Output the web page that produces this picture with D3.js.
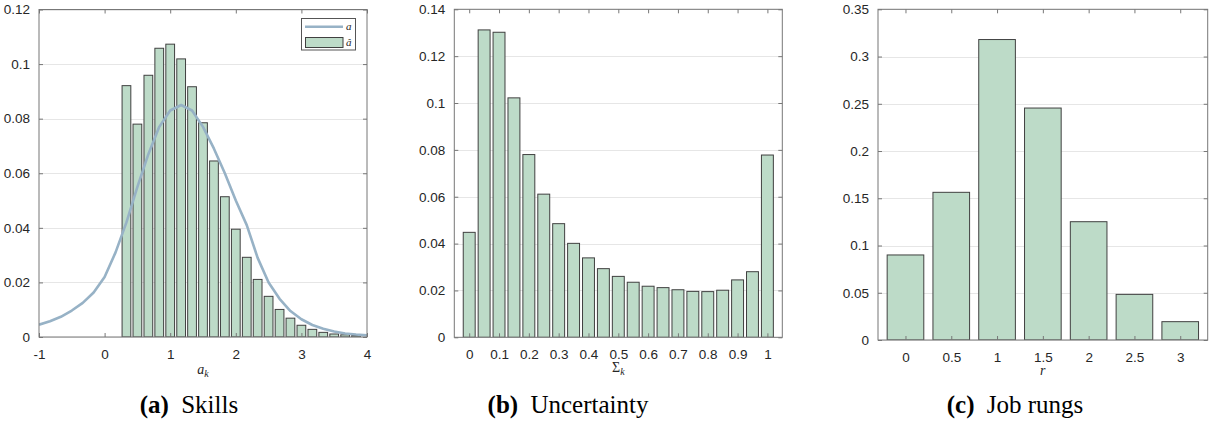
<!DOCTYPE html>
<html>
<head>
<meta charset="utf-8">
<script src="https://cdn.jsdelivr.net/npm/d3@7/dist/d3.min.js"></script>
<style>
  html, body { margin: 0; padding: 0; background: #fff; }
  svg { display: block; }
  .tick text { font-family: "Liberation Sans", Arial, sans-serif; font-size: 13.5px; fill: #262626; }
</style>
</head>
<body>
<svg id="chart" width="1214" height="424"></svg>
<script>
// ---------------- DATA ----------------
// (a) Skills: histogram of estimated skills (â) and density of true skills (a)
const skillBinCenters = [0.333, 0.5, 0.667, 0.833, 1.0, 1.167, 1.333, 1.5, 1.667, 1.833, 2.0,
  2.167, 2.333, 2.5, 2.667, 2.833, 3.0, 3.167, 3.333, 3.5, 3.667, 3.833];
const skillBinValues = [0.0921, 0.0780, 0.0959, 0.1058, 0.1073, 0.1019, 0.0917, 0.0785, 0.0645, 0.0514, 0.0395,
  0.0292, 0.0211, 0.0149, 0.0101, 0.0069, 0.0043, 0.0028, 0.0017, 0.0011, 0.0008, 0.0005];
const skillCurveX = [-1, -0.833, -0.667, -0.5, -0.333, -0.167, 0, 0.167, 0.333, 0.5, 0.667, 0.833, 1.0,
  1.167, 1.333, 1.5, 1.667, 1.833, 2.0, 2.167, 2.333, 2.5, 2.667, 2.833, 3.0, 3.167, 3.333, 3.5, 3.667, 3.833, 4.0];
const skillCurveY = [0.0045, 0.0058, 0.0074, 0.0097, 0.0125, 0.0163, 0.0220, 0.0310, 0.0420, 0.0550, 0.0670, 0.0770, 0.0830,
  0.0850, 0.0830, 0.0770, 0.0690, 0.0600, 0.0500, 0.0410, 0.0290, 0.0200, 0.0140, 0.0095, 0.0065, 0.0044, 0.0030, 0.0020, 0.0013, 0.0009, 0.0006];
const skillXTicks = [-1, 0, 1, 2, 3, 4];
const skillYTicks = [0, 0.02, 0.04, 0.06, 0.08, 0.1, 0.12];

// (b) Uncertainty
const uncCenters = [0, 0.05, 0.1, 0.15, 0.2, 0.25, 0.3, 0.35, 0.4, 0.45, 0.5, 0.55, 0.6, 0.65, 0.7, 0.75, 0.8, 0.85, 0.9, 0.95, 1.0];
const uncValues = [0.0448, 0.1312, 0.1302, 0.1022, 0.0780, 0.0611, 0.0485, 0.0401, 0.0339, 0.0293, 0.0260,
  0.0235, 0.0218, 0.0212, 0.0203, 0.0196, 0.0195, 0.0201, 0.0245, 0.0280, 0.0778];
const uncXTicks = [0, 0.1, 0.2, 0.3, 0.4, 0.5, 0.6, 0.7, 0.8, 0.9, 1];
const uncYTicks = [0, 0.02, 0.04, 0.06, 0.08, 0.1, 0.12, 0.14];

// (c) Job rungs
const rungCenters = [0, 0.5, 1, 1.5, 2, 2.5, 3];
const rungValues = [0.0900, 0.1563, 0.3180, 0.2455, 0.1252, 0.0483, 0.0194];
const rungXTicks = [0, 0.5, 1, 1.5, 2, 2.5, 3];
const rungYTicks = [0, 0.05, 0.1, 0.15, 0.2, 0.25, 0.3, 0.35];

const captions = [
  { tag: "(a)", text: "Skills" },
  { tag: "(b)", text: "Uncertainty" },
  { tag: "(c)", text: "Job rungs" }
];

// ---------------- STYLE ----------------
const barFill = "#bddbc8";
const barStroke = "#404040";
const curveColor = "#97b2c6";
const boxColor = "#777777";
const gridColor = "#e6e6e6";
const textColor = "#262626";

const svg = d3.select("#chart");
const fmt = v => String(+v.toFixed(3));

function panel(cfg) {
  const g = svg.append("g");
  const x = d3.scaleLinear().domain(cfg.xDomain).range([cfg.left, cfg.right]);
  const y = d3.scaleLinear().domain(cfg.yDomain).range([cfg.bottom, cfg.top]);

  const clipId = "clip" + cfg.id;
  svg.append("clipPath").attr("id", clipId).append("rect")
    .attr("x", cfg.left).attr("y", cfg.top)
    .attr("width", cfg.right - cfg.left).attr("height", cfg.bottom - cfg.top);

  // grid
  g.append("g").selectAll("line").data(cfg.yTicks).join("line")
    .attr("x1", cfg.left).attr("x2", cfg.right)
    .attr("y1", d => Math.round(y(d)) + 0.5).attr("y2", d => Math.round(y(d)) + 0.5)
    .attr("stroke", gridColor).attr("stroke-width", 1);

  // bars
  const bw = cfg.barWidth;
  g.append("g").attr("clip-path", `url(#${clipId})`)
    .selectAll("rect").data(cfg.centers.map((c, i) => ({ c, v: cfg.values[i] }))).join("rect")
    .attr("x", d => x(d.c - bw / 2))
    .attr("width", d => x(d.c + bw / 2) - x(d.c - bw / 2))
    .attr("y", d => y(d.v))
    .attr("height", d => y(0) - y(d.v))
    .attr("fill", barFill)
    .attr("stroke", barStroke)
    .attr("stroke-width", 1);

  // curve
  if (cfg.curveX) {
    const line = d3.line().x(d => x(d[0])).y(d => y(d[1])).curve(d3.curveLinear);
    g.append("path").attr("clip-path", `url(#${clipId})`)
      .datum(cfg.curveX.map((v, i) => [v, cfg.curveY[i]]))
      .attr("d", line)
      .attr("fill", "none").attr("stroke", curveColor).attr("stroke-width", 2.6)
      .attr("stroke-linejoin", "round");
  }

  // axes with inward ticks
  const tl = 4;
  const bottomAxis = d3.axisBottom(x).tickValues(cfg.xTicks).tickFormat(fmt).tickSizeInner(-tl).tickSizeOuter(0).tickPadding(12);
  const topAxis = d3.axisTop(x).tickValues(cfg.xTicks).tickFormat("").tickSizeInner(-tl).tickSizeOuter(0);
  const leftAxis = d3.axisLeft(y).tickValues(cfg.yTicks).tickFormat(fmt).tickSizeInner(-tl).tickSizeOuter(0).tickPadding(9);
  const rightAxis = d3.axisRight(y).tickValues(cfg.yTicks).tickFormat("").tickSizeInner(-tl).tickSizeOuter(0);

  const styleAxis = sel => {
    sel.select(".domain").remove();
    sel.selectAll(".tick line").attr("stroke", boxColor);
    sel.selectAll(".tick text").attr("fill", textColor).attr("font-family", null).attr("font-size", null);
  };
  g.append("g").attr("transform", `translate(0,${cfg.bottom})`).call(bottomAxis).call(styleAxis);
  g.append("g").attr("transform", `translate(0,${cfg.top})`).call(topAxis).call(styleAxis);
  g.append("g").attr("transform", `translate(${cfg.left},0)`).call(leftAxis).call(styleAxis);
  g.append("g").attr("transform", `translate(${cfg.right},0)`).call(rightAxis).call(styleAxis);

  // box
  g.append("rect")
    .attr("x", cfg.left).attr("y", cfg.top)
    .attr("width", cfg.right - cfg.left).attr("height", cfg.bottom - cfg.top)
    .attr("fill", "none").attr("stroke", boxColor).attr("stroke-width", 1);

  // x label
  const xl = g.append("text")
    .attr("x", (cfg.left + cfg.right) / 2).attr("y", cfg.xLabelY)
    .attr("text-anchor", "middle")
    .attr("font-family", "'Liberation Serif', 'DejaVu Serif', serif")
    .attr("font-size", 14).attr("fill", textColor);
  cfg.xLabel(xl);

  // caption
  const cap = svg.append("text")
    .attr("x", cfg.capX).attr("y", 413)
    .attr("text-anchor", "middle")
    .attr("font-family", "'Liberation Serif', 'DejaVu Serif', serif")
    .attr("font-size", 25).attr("fill", "#000");
  cap.append("tspan").attr("font-weight", "bold").text(cfg.caption.tag);
  cap.append("tspan").attr("dx", 6).text(" " + cfg.caption.text);

  return { g, x, y };
}

// Panel (a)
const pa = panel({
  id: "a", left: 39, right: 367, top: 9.5, bottom: 337,
  xDomain: [-1, 4], yDomain: [0, 0.12],
  xTicks: skillXTicks, yTicks: skillYTicks,
  centers: skillBinCenters, values: skillBinValues, barWidth: 0.8 / 6,
  curveX: skillCurveX, curveY: skillCurveY,
  xLabelY: 374,
  xLabel: t => {
    t.append("tspan").attr("font-style", "italic").text("a");
    t.append("tspan").attr("font-style", "italic").attr("font-size", 10).attr("dy", 2.5).text("k");
  },
  capX: 189, caption: captions[0]
});

// Legend for (a)
(function () {
  const lg = pa.g.append("g");
  lg.append("rect").attr("x", 301.5).attr("y", 18.5).attr("width", 54).attr("height", 31.5)
    .attr("fill", "#fff").attr("stroke", "#555").attr("stroke-width", 1);
  lg.append("line").attr("x1", 305).attr("x2", 343).attr("y1", 26.8).attr("y2", 26.8)
    .attr("stroke", curveColor).attr("stroke-width", 2.6);
  lg.append("rect").attr("x", 305.5).attr("y", 37.5).attr("width", 37.5).attr("height", 10)
    .attr("fill", barFill).attr("stroke", barStroke).attr("stroke-width", 1);
  lg.append("text").attr("x", 346).attr("y", 30).attr("font-family", "'Liberation Serif', serif")
    .attr("font-style", "italic").attr("font-size", 11).attr("fill", textColor).text("a");
  lg.append("text").attr("x", 346).attr("y", 46).attr("font-family", "'Liberation Serif', serif")
    .attr("font-style", "italic").attr("font-size", 11).attr("fill", textColor).text("\u00e2");
})();

// Panel (b)
panel({
  id: "b", left: 454.3, right: 782.3, top: 9.3, bottom: 337.3,
  xDomain: [-0.05, 1.05], yDomain: [0, 0.14],
  xTicks: uncXTicks, yTicks: uncYTicks,
  centers: uncCenters, values: uncValues, barWidth: 0.8 * 0.05,
  xLabelY: 372,
  xLabel: t => {
    t.append("tspan").text("\u03a3");
    t.append("tspan").attr("font-style", "italic").attr("font-size", 10).attr("dy", 2.5).text("k");
  },
  capX: 568, caption: captions[1]
});

// Panel (c)
panel({
  id: "c", left: 878, right: 1207.7, top: 9.3, bottom: 340,
  xDomain: [-0.3, 3.3], yDomain: [0, 0.35],
  xTicks: rungXTicks, yTicks: rungYTicks,
  centers: rungCenters, values: rungValues, barWidth: 0.8 * 0.5,
  xLabelY: 375,
  xLabel: t => {
    t.append("tspan").attr("font-style", "italic").text("r");
  },
  capX: 1015, caption: captions[2]
});
</script>
</body>
</html>
